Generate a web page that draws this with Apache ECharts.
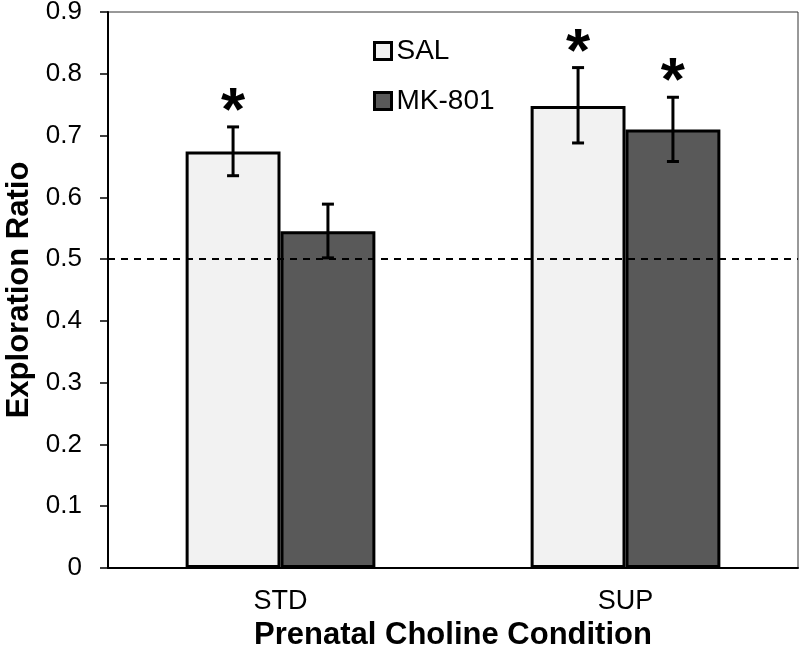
<!DOCTYPE html>
<html>
<head>
<meta charset="utf-8">
<script src="https://cdn.jsdelivr.net/npm/echarts@6/dist/echarts.min.js"></script>
<style>
  html, body { margin: 0; padding: 0; background: #fff; }
  #main { width: 800px; height: 648px; }
</style>
</head>
<body>
<div id="main"></div>
<script>
// values
var categories = ['STD', 'SUP'];
var yTicks = [0, 0.1, 0.2, 0.3, 0.4, 0.5, 0.6, 0.7, 0.8, 0.9];
var salMeans = [0.674, 0.748];
var salLow = [0.635, 0.688];
var salHigh = [0.714, 0.810];
var salStar = [1, 1];
var mkMeans = [0.545, 0.710];
var mkLow = [0.502, 0.658];
var mkHigh = [0.589, 0.762];
var mkStar = [0, 1];
var chanceLevel = 0.5;

var font = 'Liberation Sans, Arial, sans-serif';
var catGap = 0.45; // barCategoryGap

function errData(low, high, star) {
    return categories.map(function (c, i) { return [i, low[i], high[i], star[i]]; });
}

function errorRenderer(side) {
    return function (params, api) {
        var idx = api.value(0);
        var band = api.size([1, 0])[0];
        var barW = band * (1 - catGap) / 2;
        var x = api.coord([idx, 0])[0] + side * barW / 2;
        var lo = api.coord([idx, api.value(1)])[1];
        var hi = api.coord([idx, api.value(2)])[1];
        var cap = 6;
        var st = { stroke: '#000', lineWidth: 3 };
        var children = [
            { type: 'line', shape: { x1: x, y1: hi, x2: x, y2: lo }, style: st },
            { type: 'line', shape: { x1: x - cap, y1: hi, x2: x + cap, y2: hi }, style: st },
            { type: 'line', shape: { x1: x - cap, y1: lo, x2: x + cap, y2: lo }, style: st }
        ];
        if (api.value(3)) {
            children.push({
                type: 'text',
                style: {
                    text: '*', x: x, y: hi + 17,
                    fill: '#000', font: 'bold 62px ' + font,
                    textAlign: 'center', textVerticalAlign: 'bottom'
                }
            });
        }
        return { type: 'group', children: children };
    };
}

var chart = echarts.init(document.getElementById('main'), null, { renderer: 'canvas' });

var option = {
    animation: false,
    backgroundColor: '#fff',
    grid: {
        left: 108, right: 2, top: 12, bottom: 80,
        containLabel: false, outerBoundsMode: 'none',
        show: true, borderColor: '#333', borderWidth: 1
    },
    legend: {
        orient: 'vertical',
        left: 368, top: 32,
        icon: 'rect',
        itemWidth: 17, itemHeight: 17,
        itemGap: 22,
        data: ['SAL', 'MK-801'],
        textStyle: { fontFamily: font, fontSize: 28, color: '#000' },
        itemStyle: { borderColor: '#000', borderWidth: 3 }
    },
    xAxis: {
        type: 'category',
        data: categories,
        name: 'Prenatal Choline Condition',
        nameLocation: 'middle',
        nameGap: 52,
        nameTextStyle: { fontFamily: font, fontSize: 31, fontWeight: 'bold', color: '#000' },
        axisLine: { lineStyle: { color: '#000', width: 2 } },
        axisTick: { alignWithLabel: true, length: 7, lineStyle: { color: '#000', width: 1.5 } },
        axisLabel: { fontFamily: font, fontSize: 27, color: '#000', margin: 20 }
    },
    yAxis: {
        type: 'value',
        min: 0, max: 0.9, interval: 0.1,
        name: 'Exploration Ratio',
        nameLocation: 'middle',
        nameGap: 70,
        nameTextStyle: { fontFamily: font, fontSize: 31, fontWeight: 'bold', color: '#000' },
        axisLine: { show: true, lineStyle: { color: '#000', width: 2 } },
        axisTick: { show: true, inside: false, length: 8, lineStyle: { color: '#000', width: 1.5 } },
        splitLine: { show: false },
        axisLabel: {
            fontFamily: font, fontSize: 26, color: '#000', margin: 26,
            formatter: function (v) {
                var t = yTicks.find(function (k) { return Math.abs(k - v) < 1e-6; });
                return t === 0 ? '0' : (t !== undefined ? t.toFixed(1) : '');
            }
        }
    },
    series: [
        {
            name: 'SAL', type: 'bar', data: salMeans,
            barGap: '0%', barCategoryGap: '45%',
            itemStyle: { color: '#f2f2f2', borderColor: '#000', borderWidth: 3 },
            markLine: {
                silent: true, symbol: 'none',
                label: { show: false },
                lineStyle: { color: '#000', width: 1.8, type: [7, 6] },
                data: [{ yAxis: chanceLevel }]
            },
            z: 2
        },
        {
            name: 'MK-801', type: 'bar', data: mkMeans,
            barGap: '0%', barCategoryGap: '45%',
            itemStyle: { color: '#595959', borderColor: '#000', borderWidth: 3 },
            z: 2
        },
        {
            type: 'custom', data: errData(salLow, salHigh, salStar),
            renderItem: errorRenderer(-1), z: 5, silent: true
        },
        {
            type: 'custom', data: errData(mkLow, mkHigh, mkStar),
            renderItem: errorRenderer(1), z: 5, silent: true
        }
    ]
};

chart.setOption(option);
</script>
</body>
</html>
